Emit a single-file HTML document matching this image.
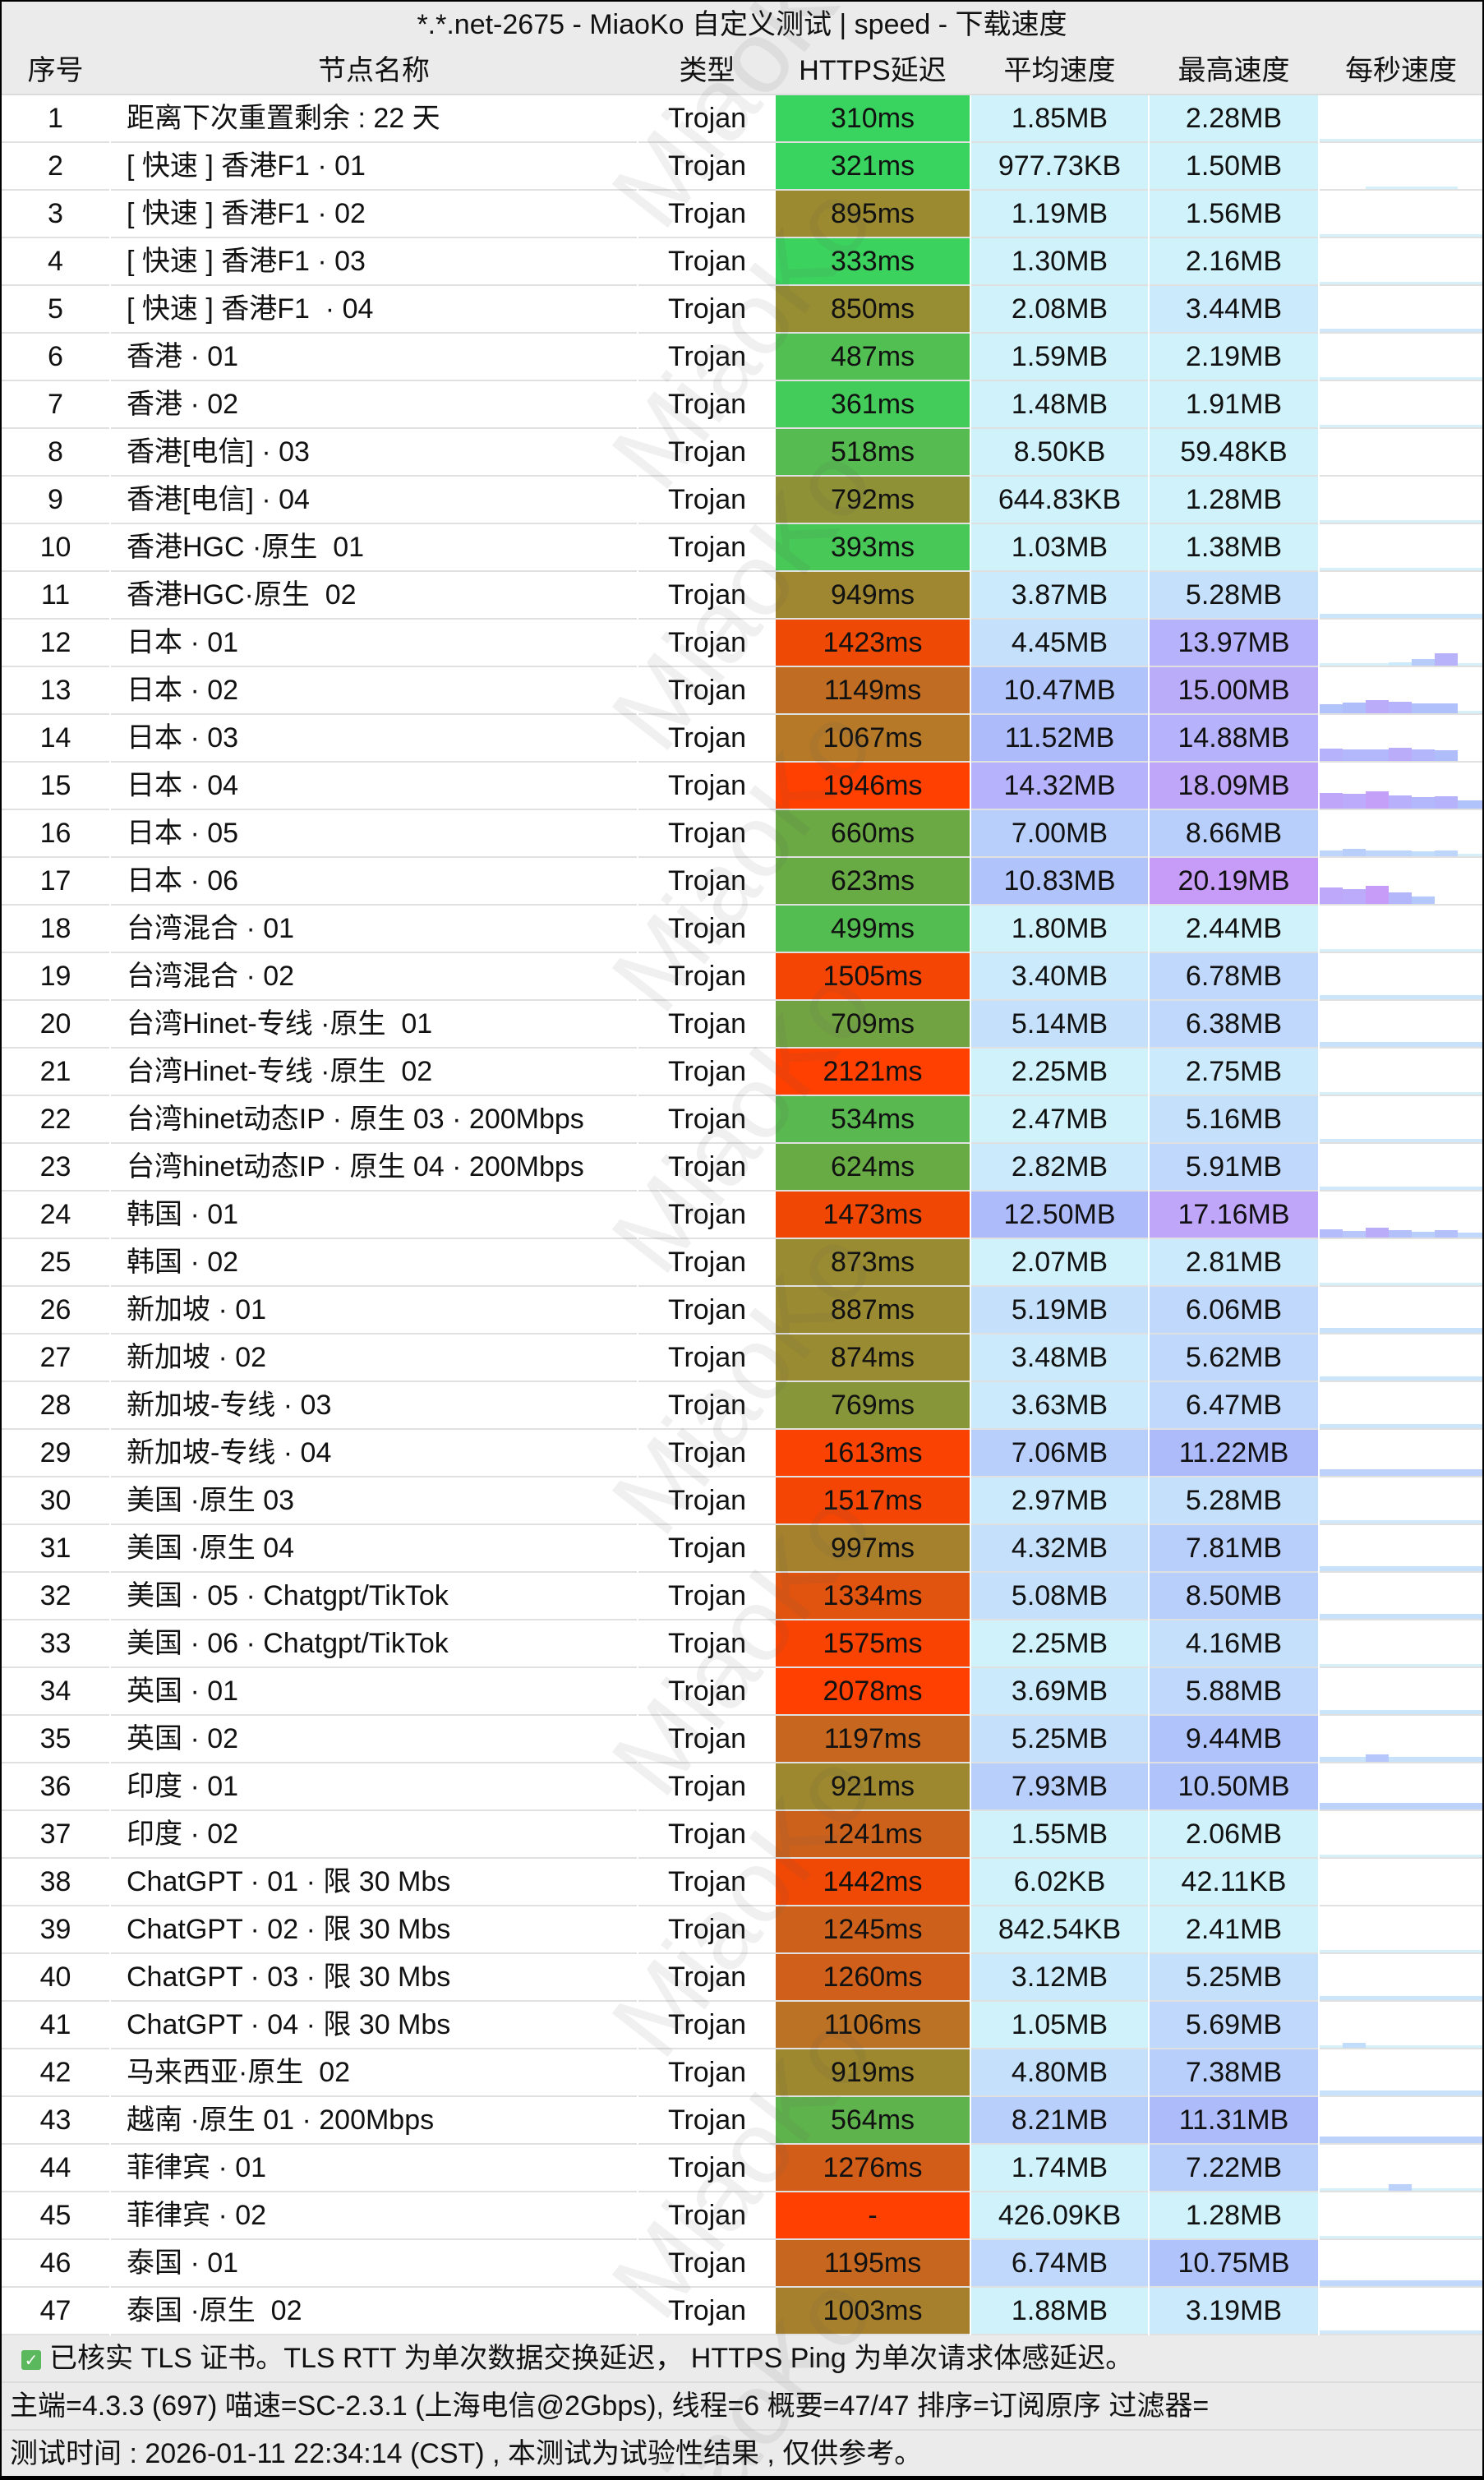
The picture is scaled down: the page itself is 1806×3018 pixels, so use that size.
<!DOCTYPE html>
<html><head><meta charset="utf-8">
<style>
*{margin:0;padding:0;box-sizing:border-box}
html,body{width:1806px;height:3018px;background:#000;overflow:hidden}
#w{position:absolute;left:2px;top:2px;width:1802px;height:3011px;background:#fff;overflow:hidden;font-family:"Liberation Sans","Noto Sans CJK SC",sans-serif;font-size:34px;color:#111}
.bar{position:absolute;left:0;width:1802px;height:58px;background:#ebebeb;border-bottom:2px solid #dcdcdc}
.r{position:absolute;left:0;width:1802px;height:58px}
.c{position:absolute;top:0;height:58px;line-height:56px;text-align:center;border-bottom:2px solid #e0e0e0;white-space:nowrap}
.c0{left:0;width:131px}
.c1{left:133px;width:640px;text-align:left;padding-left:19px}
.c2{left:775px;width:167px}
.c3{left:942px;width:236px}
.c4{left:1180px;width:215px}
.c5{left:1397px;width:205px}
.c6{left:1604px;width:198px}
.h .c{border-bottom:none}
.a0{background:#d0f2fb}.a1{background:#cbeafb}.a2{background:#c5e0fb}.a3{background:#bfd8fb}.a4{background:#b8cefb}.a5{background:#b0c3fb}.a6{background:#adbbfb}.a7{background:#b6b2fb}.a8{background:#bbacfa}.a9{background:#c0a6f9}.a10{background:#c69cf8}
.c6 svg{position:absolute;left:0;top:0}
.f{position:absolute;left:0;width:1802px;height:58px;background:#ebebeb;border-bottom:2px solid #dcdcdc;line-height:56px;padding-left:10px;white-space:nowrap}
.wm{position:absolute;font-family:"Liberation Sans",sans-serif;font-size:125px;color:rgba(90,90,90,0.09);transform:rotate(-52deg);transform-origin:center;white-space:nowrap;width:420px;text-align:center}
</style></head><body><div id="w">
<div class="bar" style="top:0;text-align:center;line-height:56px">*.*.net-2675 - MiaoKo 自定义测试 | speed - 下载速度</div>
<div class="bar h" style="top:56px">
<div class="c c0">序号</div><div class="c c1" style="text-align:center;padding:0">节点名称</div><div class="c c2">类型</div><div class="c c3">HTTPS延迟</div><div class="c c4">平均速度</div><div class="c c5">最高速度</div><div class="c c6">每秒速度</div></div>

<div class="r" style="top:114px"><div class="c c0">1</div><div class="c c1">距离下次重置剩余 : 22 天</div><div class="c c2">Trojan</div><div class="c c3" style="background:#39d45f">310ms</div><div class="c c4 a0">1.85MB</div><div class="c c5 a0">2.28MB</div><div class="c c6"><svg width="198" height="56"><rect x="0" y="53" width="198" height="3" fill="#d6f0fa"/></svg></div></div>
<div class="r" style="top:172px"><div class="c c0">2</div><div class="c c1">[ 快速 ] 香港F1 · 01</div><div class="c c2">Trojan</div><div class="c c3" style="background:#39d45f">321ms</div><div class="c c4 a0">977.73KB</div><div class="c c5 a0">1.50MB</div><div class="c c6"><svg width="198" height="56"><rect x="56" y="53" width="112" height="3" fill="#d6f0fa"/></svg></div></div>
<div class="r" style="top:230px"><div class="c c0">3</div><div class="c c1">[ 快速 ] 香港F1 · 02</div><div class="c c2">Trojan</div><div class="c c3" style="background:#9b8a30">895ms</div><div class="c c4 a0">1.19MB</div><div class="c c5 a0">1.56MB</div><div class="c c6"><svg width="198" height="56"><rect x="0" y="53" width="198" height="3" fill="#d6f0fa"/></svg></div></div>
<div class="r" style="top:288px"><div class="c c0">4</div><div class="c c1">[ 快速 ] 香港F1 · 03</div><div class="c c2">Trojan</div><div class="c c3" style="background:#3bd25e">333ms</div><div class="c c4 a0">1.30MB</div><div class="c c5 a0">2.16MB</div><div class="c c6"><svg width="198" height="56"><rect x="0" y="53" width="198" height="3" fill="#d6f0fa"/></svg></div></div>
<div class="r" style="top:346px"><div class="c c0">5</div><div class="c c1">[ 快速 ] 香港F1 &nbsp;· 04</div><div class="c c2">Trojan</div><div class="c c3" style="background:#978d32">850ms</div><div class="c c4 a0">2.08MB</div><div class="c c5 a1">3.44MB</div><div class="c c6"><svg width="198" height="56"><rect x="0" y="52" width="198" height="4" fill="#cfe8fb"/></svg></div></div>
<div class="r" style="top:404px"><div class="c c0">6</div><div class="c c1">香港 · 01</div><div class="c c2">Trojan</div><div class="c c3" style="background:#52bf52">487ms</div><div class="c c4 a0">1.59MB</div><div class="c c5 a0">2.19MB</div><div class="c c6"><svg width="198" height="56"><rect x="0" y="53" width="198" height="3" fill="#d6f0fa"/></svg></div></div>
<div class="r" style="top:462px"><div class="c c0">7</div><div class="c c1">香港 · 02</div><div class="c c2">Trojan</div><div class="c c3" style="background:#44cc5a">361ms</div><div class="c c4 a0">1.48MB</div><div class="c c5 a0">1.91MB</div><div class="c c6"><svg width="198" height="56"><rect x="0" y="53" width="198" height="3" fill="#d6f0fa"/></svg></div></div>
<div class="r" style="top:520px"><div class="c c0">8</div><div class="c c1">香港[电信] · 03</div><div class="c c2">Trojan</div><div class="c c3" style="background:#56bb50">518ms</div><div class="c c4 a0">8.50KB</div><div class="c c5 a0">59.48KB</div><div class="c c6"></div></div>
<div class="r" style="top:578px"><div class="c c0">9</div><div class="c c1">香港[电信] · 04</div><div class="c c2">Trojan</div><div class="c c3" style="background:#8e9136">792ms</div><div class="c c4 a0">644.83KB</div><div class="c c5 a0">1.28MB</div><div class="c c6"><svg width="198" height="56"><rect x="0" y="53" width="198" height="3" fill="#d6f0fa"/></svg></div></div>
<div class="r" style="top:636px"><div class="c c0">10</div><div class="c c1">香港HGC ·原生 &nbsp;01</div><div class="c c2">Trojan</div><div class="c c3" style="background:#48c857">393ms</div><div class="c c4 a0">1.03MB</div><div class="c c5 a0">1.38MB</div><div class="c c6"><svg width="198" height="56"><rect x="0" y="53" width="198" height="3" fill="#d6f0fa"/></svg></div></div>
<div class="r" style="top:694px"><div class="c c0">11</div><div class="c c1">香港HGC·原生 &nbsp;02</div><div class="c c2">Trojan</div><div class="c c3" style="background:#9f8630">949ms</div><div class="c c4 a1">3.87MB</div><div class="c c5 a2">5.28MB</div><div class="c c6"><svg width="198" height="56"><rect x="0" y="51" width="198" height="5" fill="#cbe6fb"/></svg></div></div>
<div class="r" style="top:752px"><div class="c c0">12</div><div class="c c1">日本 · 01</div><div class="c c2">Trojan</div><div class="c c3" style="background:#ee4a05">1423ms</div><div class="c c4 a2">4.45MB</div><div class="c c5 a7">13.97MB</div><div class="c c6"><svg width="198" height="56"><rect x="0" y="53" width="198" height="3" fill="#d6f0fa"/><rect x="84" y="52" width="28" height="4" fill="#cdeafb"/><rect x="112" y="48" width="28" height="8" fill="#b8ccfb"/><rect x="140" y="41" width="28" height="15" fill="#b8b2fb"/></svg></div></div>
<div class="r" style="top:810px"><div class="c c0">13</div><div class="c c1">日本 · 02</div><div class="c c2">Trojan</div><div class="c c3" style="background:#c06c22">1149ms</div><div class="c c4 a5">10.47MB</div><div class="c c5 a8">15.00MB</div><div class="c c6"><svg width="198" height="56"><rect x="0" y="45" width="28" height="11" fill="#b0c3fb"/><rect x="28" y="43" width="28" height="13" fill="#b0bdfb"/><rect x="56" y="40" width="28" height="16" fill="#bbacfa"/><rect x="84" y="42" width="28" height="14" fill="#b6b2fb"/><rect x="112" y="44" width="28" height="12" fill="#b0c0fb"/><rect x="140" y="44" width="28" height="12" fill="#b0c0fb"/><rect x="168" y="53" width="30" height="3" fill="#d6f0fa"/></svg></div></div>
<div class="r" style="top:868px"><div class="c c0">14</div><div class="c c1">日本 · 03</div><div class="c c2">Trojan</div><div class="c c3" style="background:#b57928">1067ms</div><div class="c c4 a6">11.52MB</div><div class="c c5 a7">14.88MB</div><div class="c c6"><svg width="198" height="56"><rect x="0" y="41" width="28" height="15" fill="#b6b2fb"/><rect x="28" y="42" width="28" height="14" fill="#b2b8fb"/><rect x="56" y="42" width="28" height="14" fill="#b2b8fb"/><rect x="84" y="40" width="28" height="16" fill="#bbacfa"/><rect x="112" y="42" width="28" height="14" fill="#b4b6fb"/><rect x="140" y="43" width="28" height="13" fill="#b0bdfb"/></svg></div></div>
<div class="r" style="top:926px"><div class="c c0">15</div><div class="c c1">日本 · 04</div><div class="c c2">Trojan</div><div class="c c3" style="background:#ff4000">1946ms</div><div class="c c4 a7">14.32MB</div><div class="c c5 a9">18.09MB</div><div class="c c6"><svg width="198" height="56"><rect x="0" y="37" width="28" height="19" fill="#c0a6f9"/><rect x="28" y="38" width="28" height="18" fill="#bcaafa"/><rect x="56" y="35" width="28" height="21" fill="#c4a0f8"/><rect x="84" y="40" width="28" height="16" fill="#b8b0fb"/><rect x="112" y="42" width="28" height="14" fill="#b2b8fb"/><rect x="140" y="41" width="28" height="15" fill="#b6b2fb"/><rect x="168" y="46" width="30" height="10" fill="#b0c3fb"/></svg></div></div>
<div class="r" style="top:984px"><div class="c c0">16</div><div class="c c1">日本 · 05</div><div class="c c2">Trojan</div><div class="c c3" style="background:#6aa944">660ms</div><div class="c c4 a4">7.00MB</div><div class="c c5 a4">8.66MB</div><div class="c c6"><svg width="198" height="56"><rect x="0" y="49" width="28" height="7" fill="#bed6fb"/><rect x="28" y="47" width="28" height="9" fill="#b8cefb"/><rect x="56" y="49" width="28" height="7" fill="#bed6fb"/><rect x="84" y="49" width="28" height="7" fill="#bed6fb"/><rect x="112" y="50" width="28" height="6" fill="#c2dcfb"/><rect x="140" y="49" width="28" height="7" fill="#bed6fb"/><rect x="168" y="53" width="30" height="3" fill="#d6f0fa"/></svg></div></div>
<div class="r" style="top:1042px"><div class="c c0">17</div><div class="c c1">日本 · 06</div><div class="c c2">Trojan</div><div class="c c3" style="background:#68ab45">623ms</div><div class="c c4 a5">10.83MB</div><div class="c c5 a10">20.19MB</div><div class="c c6"><svg width="198" height="56"><rect x="0" y="36" width="28" height="20" fill="#bea8f9"/><rect x="28" y="38" width="28" height="18" fill="#bcaafa"/><rect x="56" y="34" width="28" height="22" fill="#c69cf8"/><rect x="84" y="42" width="28" height="14" fill="#b4b6fb"/><rect x="112" y="47" width="28" height="9" fill="#b4c8fb"/></svg></div></div>
<div class="r" style="top:1100px"><div class="c c0">18</div><div class="c c1">台湾混合 · 01</div><div class="c c2">Trojan</div><div class="c c3" style="background:#54bd51">499ms</div><div class="c c4 a0">1.80MB</div><div class="c c5 a0">2.44MB</div><div class="c c6"><svg width="198" height="56"><rect x="0" y="53" width="198" height="3" fill="#d6f0fa"/></svg></div></div>
<div class="r" style="top:1158px"><div class="c c0">19</div><div class="c c1">台湾混合 · 02</div><div class="c c2">Trojan</div><div class="c c3" style="background:#f44504">1505ms</div><div class="c c4 a1">3.40MB</div><div class="c c5 a3">6.78MB</div><div class="c c6"><svg width="198" height="56"><rect x="0" y="51" width="198" height="5" fill="#cbe6fb"/></svg></div></div>
<div class="r" style="top:1216px"><div class="c c0">20</div><div class="c c1">台湾Hinet-专线 ·原生 &nbsp;01</div><div class="c c2">Trojan</div><div class="c c3" style="background:#72a342">709ms</div><div class="c c4 a2">5.14MB</div><div class="c c5 a3">6.38MB</div><div class="c c6"><svg width="198" height="56"><rect x="0" y="50" width="198" height="6" fill="#c8e2fb"/></svg></div></div>
<div class="r" style="top:1274px"><div class="c c0">21</div><div class="c c1">台湾Hinet-专线 ·原生 &nbsp;02</div><div class="c c2">Trojan</div><div class="c c3" style="background:#ff4000">2121ms</div><div class="c c4 a0">2.25MB</div><div class="c c5 a1">2.75MB</div><div class="c c6"><svg width="198" height="56"><rect x="0" y="53" width="198" height="3" fill="#d6f0fa"/></svg></div></div>
<div class="r" style="top:1332px"><div class="c c0">22</div><div class="c c1">台湾hinet动态IP · 原生 03 · 200Mbps</div><div class="c c2">Trojan</div><div class="c c3" style="background:#59b84f">534ms</div><div class="c c4 a0">2.47MB</div><div class="c c5 a2">5.16MB</div><div class="c c6"><svg width="198" height="56"><rect x="0" y="52" width="198" height="4" fill="#cfe8fb"/></svg></div></div>
<div class="r" style="top:1390px"><div class="c c0">23</div><div class="c c1">台湾hinet动态IP · 原生 04 · 200Mbps</div><div class="c c2">Trojan</div><div class="c c3" style="background:#68ab45">624ms</div><div class="c c4 a1">2.82MB</div><div class="c c5 a3">5.91MB</div><div class="c c6"><svg width="198" height="56"><rect x="0" y="52" width="198" height="4" fill="#cfe8fb"/></svg></div></div>
<div class="r" style="top:1448px"><div class="c c0">24</div><div class="c c1">韩国 · 01</div><div class="c c2">Trojan</div><div class="c c3" style="background:#f04804">1473ms</div><div class="c c4 a6">12.50MB</div><div class="c c5 a9">17.16MB</div><div class="c c6"><svg width="198" height="56"><rect x="0" y="46" width="28" height="10" fill="#b4bcfb"/><rect x="28" y="48" width="28" height="8" fill="#b8c6fb"/><rect x="56" y="44" width="28" height="12" fill="#bbacfa"/><rect x="84" y="47" width="28" height="9" fill="#b4c0fb"/><rect x="112" y="49" width="28" height="7" fill="#b8cefb"/><rect x="140" y="47" width="28" height="9" fill="#b4c0fb"/><rect x="168" y="50" width="30" height="6" fill="#bfd8fb"/></svg></div></div>
<div class="r" style="top:1506px"><div class="c c0">25</div><div class="c c1">韩国 · 02</div><div class="c c2">Trojan</div><div class="c c3" style="background:#998b31">873ms</div><div class="c c4 a0">2.07MB</div><div class="c c5 a1">2.81MB</div><div class="c c6"><svg width="198" height="56"><rect x="0" y="53" width="198" height="3" fill="#d6f0fa"/></svg></div></div>
<div class="r" style="top:1564px"><div class="c c0">26</div><div class="c c1">新加坡 · 01</div><div class="c c2">Trojan</div><div class="c c3" style="background:#9a8a31">887ms</div><div class="c c4 a2">5.19MB</div><div class="c c5 a3">6.06MB</div><div class="c c6"><svg width="198" height="56"><rect x="0" y="50" width="198" height="6" fill="#c8e2fb"/></svg></div></div>
<div class="r" style="top:1622px"><div class="c c0">27</div><div class="c c1">新加坡 · 02</div><div class="c c2">Trojan</div><div class="c c3" style="background:#998b31">874ms</div><div class="c c4 a1">3.48MB</div><div class="c c5 a3">5.62MB</div><div class="c c6"><svg width="198" height="56"><rect x="0" y="51" width="198" height="5" fill="#cbe6fb"/></svg></div></div>
<div class="r" style="top:1680px"><div class="c c0">28</div><div class="c c1">新加坡-专线 · 03</div><div class="c c2">Trojan</div><div class="c c3" style="background:#879639">769ms</div><div class="c c4 a1">3.63MB</div><div class="c c5 a3">6.47MB</div><div class="c c6"><svg width="198" height="56"><rect x="0" y="51" width="198" height="5" fill="#cbe6fb"/></svg></div></div>
<div class="r" style="top:1738px"><div class="c c0">29</div><div class="c c1">新加坡-专线 · 04</div><div class="c c2">Trojan</div><div class="c c3" style="background:#fa4202">1613ms</div><div class="c c4 a4">7.06MB</div><div class="c c5 a6">11.22MB</div><div class="c c6"><svg width="198" height="56"><rect x="0" y="48" width="198" height="8" fill="#bcd2fb"/></svg></div></div>
<div class="r" style="top:1796px"><div class="c c0">30</div><div class="c c1">美国 ·原生 03</div><div class="c c2">Trojan</div><div class="c c3" style="background:#f44504">1517ms</div><div class="c c4 a1">2.97MB</div><div class="c c5 a2">5.28MB</div><div class="c c6"><svg width="198" height="56"><rect x="0" y="52" width="198" height="4" fill="#cfe8fb"/></svg></div></div>
<div class="r" style="top:1854px"><div class="c c0">31</div><div class="c c1">美国 ·原生 04</div><div class="c c2">Trojan</div><div class="c c3" style="background:#a5812e">997ms</div><div class="c c4 a2">4.32MB</div><div class="c c5 a4">7.81MB</div><div class="c c6"><svg width="198" height="56"><rect x="0" y="50" width="198" height="6" fill="#c8e2fb"/></svg></div></div>
<div class="r" style="top:1912px"><div class="c c0">32</div><div class="c c1">美国 · 05 · Chatgpt/TikTok</div><div class="c c2">Trojan</div><div class="c c3" style="background:#e0540f">1334ms</div><div class="c c4 a2">5.08MB</div><div class="c c5 a4">8.50MB</div><div class="c c6"><svg width="198" height="56"><rect x="0" y="50" width="198" height="6" fill="#c8e2fb"/></svg></div></div>
<div class="r" style="top:1970px"><div class="c c0">33</div><div class="c c1">美国 · 06 · Chatgpt/TikTok</div><div class="c c2">Trojan</div><div class="c c3" style="background:#f84303">1575ms</div><div class="c c4 a0">2.25MB</div><div class="c c5 a2">4.16MB</div><div class="c c6"><svg width="198" height="56"><rect x="0" y="53" width="198" height="3" fill="#d6f0fa"/></svg></div></div>
<div class="r" style="top:2028px"><div class="c c0">34</div><div class="c c1">英国 · 01</div><div class="c c2">Trojan</div><div class="c c3" style="background:#ff4000">2078ms</div><div class="c c4 a1">3.69MB</div><div class="c c5 a3">5.88MB</div><div class="c c6"><svg width="198" height="56"><rect x="0" y="51" width="198" height="5" fill="#cbe6fb"/></svg></div></div>
<div class="r" style="top:2086px"><div class="c c0">35</div><div class="c c1">英国 · 02</div><div class="c c2">Trojan</div><div class="c c3" style="background:#c6661f">1197ms</div><div class="c c4 a2">5.25MB</div><div class="c c5 a5">9.44MB</div><div class="c c6"><svg width="198" height="56"><rect x="0" y="50" width="198" height="6" fill="#c8e2fb"/><rect x="56" y="47" width="28" height="9" fill="#b6c8fb"/></svg></div></div>
<div class="r" style="top:2144px"><div class="c c0">36</div><div class="c c1">印度 · 01</div><div class="c c2">Trojan</div><div class="c c3" style="background:#9d882f">921ms</div><div class="c c4 a4">7.93MB</div><div class="c c5 a5">10.50MB</div><div class="c c6"><svg width="198" height="56"><rect x="0" y="48" width="198" height="8" fill="#bcd2fb"/></svg></div></div>
<div class="r" style="top:2202px"><div class="c c0">37</div><div class="c c1">印度 · 02</div><div class="c c2">Trojan</div><div class="c c3" style="background:#cc611c">1241ms</div><div class="c c4 a0">1.55MB</div><div class="c c5 a0">2.06MB</div><div class="c c6"><svg width="198" height="56"><rect x="0" y="53" width="198" height="3" fill="#d6f0fa"/></svg></div></div>
<div class="r" style="top:2260px"><div class="c c0">38</div><div class="c c1">ChatGPT · 01 · 限 30 Mbs</div><div class="c c2">Trojan</div><div class="c c3" style="background:#ef4905">1442ms</div><div class="c c4 a0">6.02KB</div><div class="c c5 a0">42.11KB</div><div class="c c6"></div></div>
<div class="r" style="top:2318px"><div class="c c0">39</div><div class="c c1">ChatGPT · 02 · 限 30 Mbs</div><div class="c c2">Trojan</div><div class="c c3" style="background:#cd611c">1245ms</div><div class="c c4 a0">842.54KB</div><div class="c c5 a0">2.41MB</div><div class="c c6"><svg width="198" height="56"><rect x="0" y="53" width="198" height="3" fill="#d6f0fa"/></svg></div></div>
<div class="r" style="top:2376px"><div class="c c0">40</div><div class="c c1">ChatGPT · 03 · 限 30 Mbs</div><div class="c c2">Trojan</div><div class="c c3" style="background:#cf5f1b">1260ms</div><div class="c c4 a1">3.12MB</div><div class="c c5 a2">5.25MB</div><div class="c c6"><svg width="198" height="56"><rect x="0" y="51" width="198" height="5" fill="#cbe6fb"/></svg></div></div>
<div class="r" style="top:2434px"><div class="c c0">41</div><div class="c c1">ChatGPT · 04 · 限 30 Mbs</div><div class="c c2">Trojan</div><div class="c c3" style="background:#bb7225">1106ms</div><div class="c c4 a0">1.05MB</div><div class="c c5 a3">5.69MB</div><div class="c c6"><svg width="198" height="56"><rect x="0" y="53" width="198" height="3" fill="#d6f0fa"/><rect x="28" y="50" width="28" height="6" fill="#c2dcfb"/></svg></div></div>
<div class="r" style="top:2492px"><div class="c c0">42</div><div class="c c1">马来西亚·原生 &nbsp;02</div><div class="c c2">Trojan</div><div class="c c3" style="background:#9d882f">919ms</div><div class="c c4 a2">4.80MB</div><div class="c c5 a4">7.38MB</div><div class="c c6"><svg width="198" height="56"><rect x="0" y="50" width="198" height="6" fill="#c8e2fb"/></svg></div></div>
<div class="r" style="top:2550px"><div class="c c0">43</div><div class="c c1">越南 ·原生 01 · 200Mbps</div><div class="c c2">Trojan</div><div class="c c3" style="background:#5fb34c">564ms</div><div class="c c4 a4">8.21MB</div><div class="c c5 a6">11.31MB</div><div class="c c6"><svg width="198" height="56"><rect x="0" y="48" width="198" height="8" fill="#bcd2fb"/></svg></div></div>
<div class="r" style="top:2608px"><div class="c c0">44</div><div class="c c1">菲律宾 · 01</div><div class="c c2">Trojan</div><div class="c c3" style="background:#d15d19">1276ms</div><div class="c c4 a0">1.74MB</div><div class="c c5 a4">7.22MB</div><div class="c c6"><svg width="198" height="56"><rect x="0" y="53" width="198" height="3" fill="#d6f0fa"/><rect x="84" y="48" width="28" height="8" fill="#bcd2fb"/></svg></div></div>
<div class="r" style="top:2666px"><div class="c c0">45</div><div class="c c1">菲律宾 · 02</div><div class="c c2">Trojan</div><div class="c c3" style="background:#ff4000">-</div><div class="c c4 a0">426.09KB</div><div class="c c5 a0">1.28MB</div><div class="c c6"><svg width="198" height="56"><rect x="0" y="53" width="198" height="3" fill="#d6f0fa"/></svg></div></div>
<div class="r" style="top:2724px"><div class="c c0">46</div><div class="c c1">泰国 · 01</div><div class="c c2">Trojan</div><div class="c c3" style="background:#c6661f">1195ms</div><div class="c c4 a3">6.74MB</div><div class="c c5 a5">10.75MB</div><div class="c c6"><svg width="198" height="56"><rect x="0" y="49" width="198" height="7" fill="#c0d8fb"/></svg></div></div>
<div class="r" style="top:2782px"><div class="c c0">47</div><div class="c c1">泰国 ·原生 &nbsp;02</div><div class="c c2">Trojan</div><div class="c c3" style="background:#a7802d">1003ms</div><div class="c c4 a0">1.88MB</div><div class="c c5 a1">3.19MB</div><div class="c c6"><svg width="198" height="56"><rect x="0" y="52" width="198" height="4" fill="#cfe8fb"/></svg></div></div>

<div class="f" style="top:2840px"><span style="display:inline-block;width:24px;height:24px;background:#5cb85c;border-radius:3px;color:#fff;font-size:20px;line-height:24px;text-align:center;vertical-align:middle;margin:0 10px 0 14px;font-family:'DejaVu Sans',sans-serif">✓</span>已核实 TLS 证书。TLS RTT 为单次数据交换延迟， HTTPS Ping 为单次请求体感延迟。</div>
<div class="f" style="top:2898px">主端=4.3.3 (697) 喵速=SC-2.3.1 (上海电信@2Gbps), 线程=6 概要=47/47 排序=订阅原序 过滤器=</div>
<div class="f" style="top:2956px;height:55px;border-bottom:none">测试时间 : 2026-01-11 22:34:14 (CST) , 本测试为试验性结果 , 仅供参考。</div>

<div class="wm" style="left:690px;top:20px">MiaoKo</div>
<div class="wm" style="left:690px;top:338px">MiaoKo</div>
<div class="wm" style="left:690px;top:656px">MiaoKo</div>
<div class="wm" style="left:690px;top:974px">MiaoKo</div>
<div class="wm" style="left:690px;top:1292px">MiaoKo</div>
<div class="wm" style="left:690px;top:1610px">MiaoKo</div>
<div class="wm" style="left:690px;top:1928px">MiaoKo</div>
<div class="wm" style="left:690px;top:2246px">MiaoKo</div>
<div class="wm" style="left:690px;top:2564px">MiaoKo</div>
<div class="wm" style="left:690px;top:2882px">MiaoKo</div>
</div></body></html>
